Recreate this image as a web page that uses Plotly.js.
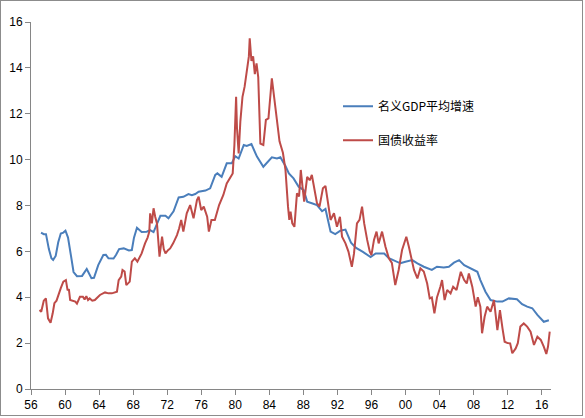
<!DOCTYPE html>
<html>
<head>
<meta charset="utf-8">
<script src="https://cdn.plot.ly/plotly-3.0.1.min.js"></script>
<style>
  html, body { margin: 0; padding: 0; background: #fff; }
  #frame { position: absolute; left: 0; top: 0; width: 581px; height: 414px; border: 1px solid #8c8c8c; }
  #chart { position: absolute; left: 0; top: 0; width: 585px; height: 418px; }
</style>
</head>
<body>
<div id="chart"></div>
<div id="frame"></div>
<script>
const gdpYears = [1957.18, 1957.5, 1957.76, 1958.1, 1958.4, 1958.6, 1958.9, 1959.2, 1959.5, 1959.8,
  1960.05, 1960.35, 1960.7, 1961.0, 1961.4, 1962.0, 1962.55, 1962.8, 1963.1, 1963.4,
  1963.9, 1964.5, 1964.8, 1965.1, 1965.7, 1966.0, 1966.35, 1966.9, 1967.5, 1967.85,
  1968.1, 1968.45, 1969.0, 1969.6, 1970.0, 1970.4, 1970.8, 1971.2, 1971.8, 1972.15,
  1972.75, 1973.35, 1973.9, 1974.5, 1974.9, 1975.3, 1975.7, 1976.5, 1977.05, 1977.65,
  1977.9, 1978.4, 1979.0, 1979.6, 1980.0, 1980.4, 1981.0, 1981.35, 1981.9, 1982.55,
  1983.3, 1983.7, 1984.3, 1984.9, 1985.3, 1985.9, 1986.3, 1986.85, 1987.45, 1988.05,
  1988.45, 1989.0, 1989.6, 1990.2, 1990.6, 1991.2, 1991.75, 1992.35, 1992.95, 1993.6,
  1994.2, 1995.0, 1995.9, 1996.5, 1997.5, 1998.05, 1998.6, 1999.4, 2000.0, 2000.4,
  2000.8, 2001.4, 2002.15, 2003.1, 2003.7, 2004.5, 2005.1, 2005.7, 2006.3, 2006.9,
  2007.65, 2008.45, 2008.8, 2009.4, 2010.0, 2010.8, 2011.4, 2012.15, 2013.1, 2013.7,
  2014.3, 2014.9, 2015.5, 2016.25, 2016.85];
const gdpGrowth = [6.82, 6.75, 6.75, 6.1, 5.7, 5.63, 5.8, 6.4, 6.78, 6.82,
  6.9, 6.6, 5.8, 5.1, 4.92, 4.93, 5.23, 5.05, 4.83, 4.85,
  5.4, 5.84, 5.85, 5.7, 5.69, 5.85, 6.1, 6.13, 6.04, 6.06,
  6.6, 7.03, 6.85, 6.86, 6.93, 6.84, 7.2, 7.55, 7.55, 7.44,
  7.75, 8.35, 8.38, 8.5, 8.45, 8.5, 8.6, 8.65, 8.75, 9.33,
  9.4, 9.25, 9.84, 9.84, 10.15, 10.05, 10.64, 10.6, 10.68, 10.13,
  9.69, 9.84, 10.1, 10.05, 10.1, 9.72, 9.4, 9.18, 8.82, 8.67,
  8.17, 8.1, 8.02, 7.75, 7.85, 6.86, 6.75, 6.9, 6.95, 6.38,
  6.15, 5.98, 5.75, 5.91, 5.91, 5.7, 5.62, 5.48, 5.55, 5.57,
  5.62, 5.48, 5.33, 5.19, 5.33, 5.3, 5.33, 5.51, 5.62, 5.4,
  5.26, 5.11, 4.75, 4.24, 3.88, 3.81, 3.81, 3.95, 3.91, 3.7,
  3.59, 3.52, 3.23, 2.93, 3.0];

const bondYears = [1957.0, 1957.2, 1957.5, 1957.75, 1958.0, 1958.3, 1958.55, 1958.75, 1959.0, 1959.2,
  1959.5, 1959.8, 1960.1, 1960.3, 1960.45, 1960.6, 1960.9, 1961.2, 1961.4, 1961.75,
  1962.1, 1962.3, 1962.5, 1962.7, 1962.9, 1963.2, 1963.5, 1964.1, 1964.7, 1965.1,
  1965.5, 1966.1, 1966.3, 1966.6, 1966.75, 1967.0, 1967.2, 1967.4, 1967.6, 1967.85,
  1968.2, 1968.5, 1968.75, 1969.0, 1969.4, 1969.7, 1969.9, 1970.0, 1970.2, 1970.4,
  1970.6, 1970.8, 1971.1, 1971.4, 1971.6, 1971.8, 1972.1, 1972.35, 1972.7, 1973.15,
  1973.4, 1973.65, 1973.9, 1974.3, 1974.7, 1975.1, 1975.5, 1975.7, 1976.0, 1976.3,
  1976.7, 1976.9, 1977.2, 1977.6, 1978.1, 1978.6, 1979.0, 1979.4, 1979.7, 1979.9,
  1980.1, 1980.2, 1980.4, 1980.6, 1980.85, 1981.1, 1981.4, 1981.6, 1981.7, 1981.9,
  1982.1, 1982.3, 1982.5, 1982.7, 1982.95, 1983.3, 1983.6, 1983.9, 1984.3, 1984.7,
  1985.0, 1985.2, 1985.6, 1985.9, 1986.2, 1986.35, 1986.5, 1986.7, 1986.95, 1987.25,
  1987.5, 1987.7, 1987.9, 1988.1, 1988.45, 1988.75, 1989.0, 1989.3, 1989.6, 1989.9,
  1990.3, 1990.6, 1990.8, 1991.2, 1991.6, 1991.95, 1992.3, 1992.55, 1992.95, 1993.3,
  1993.7, 1993.95, 1994.3, 1994.6, 1994.9, 1995.15, 1995.5, 1995.8, 1996.0, 1996.3,
  1996.6, 1996.85, 1997.25, 1997.65, 1998.05, 1998.4, 1998.8, 1999.2, 1999.6, 2000.1,
  2000.4, 2000.7, 2001.0, 2001.4, 2001.75, 2002.15, 2002.55, 2002.85, 2003.1, 2003.4,
  2003.7, 2004.1, 2004.3, 2004.6, 2004.9, 2005.3, 2005.6, 2006.0, 2006.5, 2006.9,
  2007.2, 2007.45, 2007.85, 2008.25, 2008.5, 2008.8, 2009.0, 2009.3, 2009.6, 2010.0,
  2010.4, 2010.8, 2011.1, 2011.4, 2011.65, 2012.0, 2012.3, 2012.55, 2012.95, 2013.2,
  2013.5, 2013.9, 2014.3, 2014.7, 2015.1, 2015.5, 2015.9, 2016.25, 2016.55, 2016.75,
  2016.95];
const bondYield = [3.44, 3.37, 3.85, 3.95, 3.08, 2.89, 3.3, 3.74, 3.85, 4.1,
  4.4, 4.68, 4.75, 4.3, 4.35, 3.88, 3.85, 3.81, 3.72, 4.02,
  4.02, 3.9, 4.05, 3.88, 3.95, 3.85, 3.88, 4.1, 4.21, 4.17,
  4.17, 4.24, 4.75, 4.9, 5.19, 5.12, 4.53, 4.6, 4.68, 5.55,
  5.7, 5.55, 5.75, 5.91, 6.35, 6.6, 6.86, 7.66, 7.22, 7.88,
  7.5, 7.22, 5.77, 6.64, 6.1, 5.91, 6.05, 6.13, 6.35, 6.71,
  7.0, 7.37, 6.86, 7.66, 8.02, 7.44, 8.24, 8.38, 7.8, 7.95,
  7.51, 6.86, 7.37, 7.37, 8.02, 8.46, 8.96, 9.2, 9.4, 10.64,
  12.74, 11.4, 10.27, 11.67, 12.74, 13.18, 13.9, 14.5, 15.29, 14.3,
  14.5, 13.73, 14.2, 13.6, 10.7, 10.64, 11.73, 11.8, 13.54, 12.3,
  11.43, 10.8, 10.3, 9.55, 7.95, 7.37, 7.73, 7.22, 7.07, 8.53,
  8.4, 9.55, 8.82, 8.17, 9.25, 9.1, 9.33, 8.67, 8.1, 7.95,
  8.75, 8.85, 8.4, 7.37, 7.66, 7.07, 7.51, 6.64, 6.35, 5.99,
  5.33, 5.9, 7.22, 7.37, 7.95, 7.22, 6.5, 6.0, 5.84, 6.5,
  6.86, 6.35, 6.86, 6.2, 5.7, 5.5, 4.53, 5.19, 6.06, 6.64,
  6.2, 5.7, 5.19, 4.82, 5.26, 5.12, 4.6, 3.95, 3.99, 3.3,
  3.99, 4.46, 4.75, 3.88, 4.32, 4.17, 4.46, 4.32, 5.11, 4.75,
  4.6, 5.04, 4.46, 3.59, 4.0, 3.59, 2.43, 3.15, 3.59, 3.37,
  3.88, 2.57, 3.44, 2.64, 2.06, 2.0, 1.99, 1.56, 1.77, 2.0,
  2.72, 2.86, 2.72, 2.5, 1.92, 2.28, 2.14, 1.85, 1.53, 1.85,
  2.5];

const tickYears = [1956, 1960, 1964, 1968, 1972, 1976, 1980, 1984, 1988, 1992, 1996, 2000, 2004, 2008, 2012, 2016];
const tickLabels = ['56', '60', '64', '68', '72', '76', '80', '84', '88', '92', '96', '00', '04', '08', '12', '16'];

const gdpTrace = {
  x: gdpYears,
  y: gdpGrowth,
  mode: 'lines',
  name: '名义GDP平均增速',
  legendgroup: 'a',
  line: { color: '#4a7ebb', width: 2 },
};

const bondTrace = {
  x: bondYears,
  y: bondYield,
  mode: 'lines',
  name: '国债收益率',
  legendgroup: 'b',
  line: { color: '#be4b48', width: 2 },
};

Plotly.newPlot('chart', [gdpTrace, bondTrace], {
  width: 585,
  height: 418,
  margin: { l: 31, r: 34, t: 22, b: 29 },
  paper_bgcolor: '#fff',
  plot_bgcolor: '#fff',
  font: { family: '"Noto Sans CJK SC", "Liberation Sans", sans-serif', size: 12, color: '#000' },
  showlegend: true,
  legend: {
    x: (338 - 31) / 520,
    y: 0.81,
    xanchor: 'left',
    yanchor: 'top',
    traceorder: 'grouped',
    tracegroupgap: 15,
    itemwidth: 30,
    font: { size: 12 },
    bgcolor: 'rgba(0,0,0,0)',
  },
  xaxis: {
    range: [1956, 2017.1],
    tickvals: tickYears,
    ticktext: tickLabels,
    showgrid: false,
    zeroline: false,
    showline: true,
    linecolor: '#868686',
    linewidth: 1,
    ticks: 'outside',
    ticklen: 5,
    tickcolor: '#868686',
    tickfont: { family: '"Liberation Sans", sans-serif', size: 12, color: '#000' },
  },
  yaxis: {
    range: [0, 16],
    dtick: 2,
    showgrid: false,
    zeroline: false,
    showline: true,
    linecolor: '#868686',
    linewidth: 1,
    ticks: 'outside',
    ticklen: 5,
    tickcolor: '#868686',
    tickfont: { family: '"Liberation Sans", sans-serif', size: 12, color: '#000' },
  },
}, { displayModeBar: false, staticPlot: true });
</script>
</body>
</html>
